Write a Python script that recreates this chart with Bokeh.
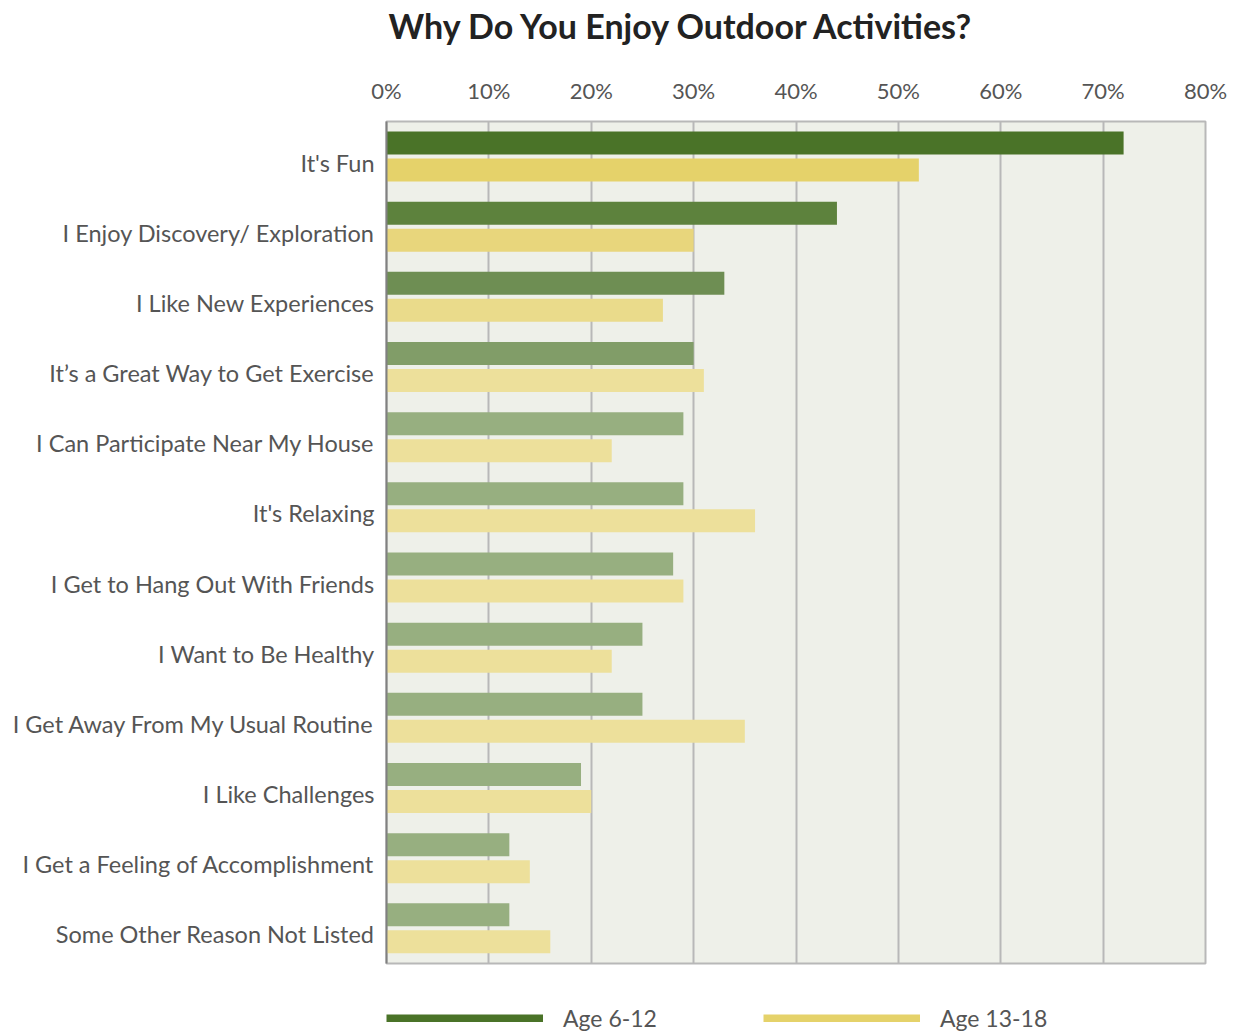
from bokeh.plotting import figure
from bokeh.layouts import column
from bokeh.models import (ColumnDataSource, Range1d, PrintfTickFormatter, Label,
                          Legend, LegendItem, FixedTicker, CustomJSTickFormatter)
from bokeh.transform import dodge
from bokeh.embed import file_html
from bokeh.resources import INLINE

categories = ["It's Fun", "I Enjoy Discovery/ Exploration", "I Like New Experiences",
              "It\u2019s a Great Way to Get Exercise", "I Can Participate Near My House",
              "It's Relaxing", "I Get to Hang Out With Friends", "I Want to Be Healthy",
              "I Get Away From My Usual Routine", "I Like Challenges",
              "I Get a Feeling of Accomplishment", "Some Other Reason Not Listed"]
age_6_12 = [72, 44, 33, 30, 29, 29, 28, 25, 25, 19, 12, 12]
age_13_18 = [52, 30, 27, 31, 22, 36, 29, 22, 35, 20, 14, 16]
green_colors = ["#4a7328", "#5d823d", "#6e8e53", "#819d68", "#97af80", "#97af80",
                "#97af80", "#97af80", "#97af80", "#97af80", "#97af80", "#97af80"]
yellow_colors = ["#e5d26a", "#e8d67c", "#eadb8b", "#ede09b", "#ede09b", "#ede09b",
                 "#ede09b", "#ede09b", "#ede09b", "#ede09b", "#ede09b", "#ede09b"]
series_names = ["Age 6-12", "Age 13-18"]
title_text = "Why Do You Enjoy Outdoor Activities?"
x_ticks = [0, 10, 20, 30, 40, 50, 60, 70, 80]

FONT = "Lato"
LABEL_SHIFT = 0.585  # tick label position inside each category band

idx = list(range(len(categories)))
src = ColumnDataSource(dict(idx=idx, a=age_6_12, b=age_13_18,
                            ca=green_colors, cb=yellow_colors))

# ---- title strip (its frame is aligned with the chart frame by the column) ----
tp = figure(width=1236, height=60, x_range=Range1d(0, 1), y_range=Range1d(0, 1),
            output_backend="svg", toolbar_location=None, min_border=0)
tp.axis.visible = False
tp.grid.visible = False
tp.outline_line_color = None
tp.add_layout(Label(x=2, y=35, x_units="screen", y_units="screen", text=title_text,
                    text_font=FONT, text_font_size="34px", text_font_style="bold",
                    text_color="#222222", text_baseline="middle"))

# ---- main chart ----
p = figure(width=1236, height=913, y_range=Range1d(len(categories), 0),
           x_range=Range1d(0, 80), output_backend="svg", toolbar_location=None,
           x_axis_location="above", min_border_left=386, min_border_right=31,
           min_border_bottom=10, min_border_top=61)

p.background_fill_color = "#eef0e9"
p.border_fill_color = "white"
p.outline_line_color = "#b8b8b8"
p.outline_line_width = 2

p.hbar(y=dodge("idx", 0.306), right="a", left=0, height=0.328,
       fill_color="ca", line_color=None, source=src)
p.hbar(y=dodge("idx", 0.691), right="b", left=0, height=0.328,
       fill_color="cb", line_color=None, source=src)

xa = p.xaxis[0]
xa.ticker = FixedTicker(ticks=x_ticks)
xa.formatter = PrintfTickFormatter(format="%d%%")
xa.major_label_text_font = FONT
xa.major_label_text_font_size = "22px"
xa.major_label_text_color = "#555555"
xa.major_label_standoff = 12
xa.axis_line_color = None
xa.major_tick_line_color = None
xa.minor_tick_line_color = None

ya = p.yaxis[0]
ya.ticker = FixedTicker(ticks=[i + LABEL_SHIFT for i in idx])
ya.formatter = CustomJSTickFormatter(args=dict(cats=categories, shift=LABEL_SHIFT),
                                     code="return cats[Math.round(tick - shift)];")
ya.major_label_text_font = FONT
ya.major_label_text_font_size = "23.5px"
ya.major_label_text_color = "#555555"
ya.major_label_standoff = 6
ya.axis_line_color = "#808080"
ya.axis_line_width = 2
ya.major_tick_line_color = None
ya.minor_tick_line_color = None

p.xgrid.ticker = FixedTicker(ticks=x_ticks)
p.xgrid.grid_line_color = "#b8b8b8"
p.xgrid.grid_line_width = 2
p.ygrid.grid_line_color = None

# ---- legend strip ----
lp = figure(width=1236, height=59, x_range=Range1d(0, 1), y_range=Range1d(0, 1),
            output_backend="svg", toolbar_location=None, min_border=0)
lp.axis.visible = False
lp.grid.visible = False
lp.outline_line_color = None
# swatch lines lie outside the visible range; only their legend glyphs show
l1 = lp.line(x=[5, 6], y=[5, 6], line_color=green_colors[0], line_width=8)
l2 = lp.line(x=[5, 6], y=[5, 6], line_color=yellow_colors[0], line_width=8)
legend = Legend(items=[LegendItem(label=series_names[0], renderers=[l1]),
                       LegendItem(label=series_names[1], renderers=[l2])],
                orientation="horizontal", location=(0, 0),
                glyph_width=157, glyph_height=8, label_standoff=20, spacing=106,
                label_text_font=FONT, label_text_font_size="23px",
                label_text_color="#555555", border_line_color=None,
                background_fill_alpha=0, padding=0, margin=0)
lp.add_layout(legend, "center")

layout = column(tp, p, lp, spacing=0)
open("out.html", "w").write(file_html(layout, INLINE))
